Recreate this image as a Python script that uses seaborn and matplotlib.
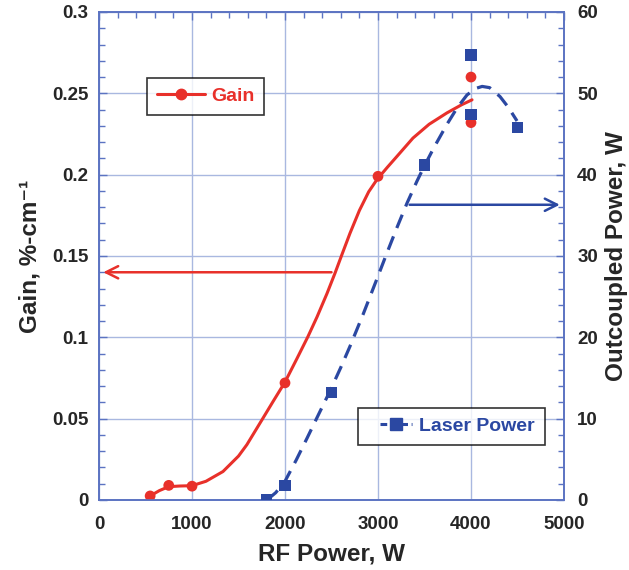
import matplotlib
matplotlib.use("Agg")
import matplotlib.pyplot as plt
from matplotlib.lines import Line2D
from matplotlib.legend_handler import HandlerLine2D
from matplotlib.ticker import MultipleLocator, FuncFormatter
import pandas as pd
import seaborn as sns

# Measured gain and laser output versus RF drive power
gain_rf = [550, 750, 1000, 2000, 3000, 4000, 4000]
gain_val = [0.0025, 0.009, 0.0085, 0.072, 0.199, 0.260, 0.232]

laser_rf = [1800, 2000, 2500, 3500, 4000, 4000, 4500]
laser_val = [0.0, 1.8, 13.2, 41.2, 54.7, 47.4, 45.8]

# Smooth trend curves drawn through the data
gain_fit_rf = [550, 650, 750, 870, 1000, 1150, 1333, 1500, 1590, 1760, 1871,
               2000, 2129, 2247, 2344, 2452, 2538, 2613, 2699, 2800, 2900,
               2989, 3100, 3200, 3376, 3550, 3742, 3900, 4011]
gain_fit_val = [0.0025, 0.0058, 0.0082, 0.0086, 0.0088, 0.0115, 0.0175, 0.027,
                0.034, 0.050, 0.0605, 0.0725, 0.087, 0.1005, 0.1125, 0.127,
                0.1395, 0.151, 0.164, 0.178, 0.1895, 0.197, 0.2045, 0.211,
                0.2225, 0.231, 0.238, 0.243, 0.246]

laser_fit_rf = [1806, 1900, 2000, 2120, 2237, 2360, 2484, 2600, 2699, 2839,
                2989, 3097, 3204, 3312, 3419, 3500, 3600, 3742, 3850, 3957,
                4050, 4120, 4200, 4312, 4400, 4495]
laser_fit_val = [0.0, 0.9, 2.3, 4.9, 7.6, 10.5, 13.4, 16.3, 18.9, 22.8,
                 27.2, 30.4, 33.5, 36.5, 39.2, 41.1, 43.3, 46.2, 48.2, 49.8,
                 50.6, 50.85, 50.7, 49.6, 48.3, 46.6]

RED = "#e8302a"
BLUE = "#2b48a2"
GRID = "#a9b8e0"
FRAME = "#5b73c2"
DASH = (0, (4.5, 2.8))

sns.set_style("white")
plt.rcParams["font.family"] = ["Liberation Sans", "DejaVu Sans"]
plt.rcParams["font.weight"] = "bold"

fig = plt.figure(figsize=(6.29, 5.70), dpi=100)
ax = fig.add_axes([99 / 629, 1 - 500 / 570, 465 / 629, 488 / 570])
ax2 = ax.twinx()

gain_df = pd.DataFrame({"rf": gain_rf, "gain": gain_val})
laser_df = pd.DataFrame({"rf": laser_rf, "power": laser_val})
gfit = pd.DataFrame({"rf": gain_fit_rf, "gain": gain_fit_val})
lfit = pd.DataFrame({"rf": laser_fit_rf, "power": laser_fit_val})

sns.lineplot(data=gfit, x="rf", y="gain", ax=ax, color=RED, linewidth=2.2,
             sort=False, estimator=None, zorder=3)
sns.scatterplot(data=gain_df, x="rf", y="gain", ax=ax, color=RED, s=60,
                edgecolor="none", zorder=4)

sns.lineplot(data=lfit, x="rf", y="power", ax=ax2, color=BLUE, linewidth=2.3,
             sort=False, estimator=None, linestyle=DASH, zorder=3)
sns.scatterplot(data=laser_df, x="rf", y="power", ax=ax2, color=BLUE, marker="s",
                s=66, edgecolor="none", zorder=4)

ax.set_xlim(0, 5000)
ax.set_ylim(0, 0.3)
ax2.set_ylim(0, 60)

ax.xaxis.set_major_locator(MultipleLocator(1000))
ax.xaxis.set_minor_locator(MultipleLocator(200))
ax.yaxis.set_major_locator(MultipleLocator(0.05))
ax.yaxis.set_minor_locator(MultipleLocator(0.01))
ax2.yaxis.set_major_locator(MultipleLocator(10))
ax2.yaxis.set_minor_locator(MultipleLocator(2))
ax.yaxis.set_major_formatter(FuncFormatter(lambda v, p: f"{v:g}"))

ax.grid(True, which="major", color=GRID, linewidth=1.0)
ax.set_axisbelow(True)

for a in (ax, ax2):
    for s in a.spines.values():
        s.set_color(FRAME)
        s.set_linewidth(1.2)
ax.tick_params(axis="both", which="both", direction="in", color=FRAME,
               labelsize=13.5, top=True, right=False)
ax.tick_params(axis="x", which="both", pad=11.5)
ax.tick_params(axis="y", which="both", pad=7.5)
ax.tick_params(which="major", length=6, width=1)
ax.tick_params(which="minor", length=4, width=1)
ax2.tick_params(axis="y", which="both", direction="in", color=FRAME,
                labelsize=13.5, pad=9.5)
ax2.tick_params(which="major", length=6, width=1)
ax2.tick_params(which="minor", length=4, width=1)
for lab in ax.get_xticklabels() + ax.get_yticklabels() + ax2.get_yticklabels():
    lab.set_fontweight("bold")

ax.set_xlabel("RF Power, W", fontsize=17.5, fontweight="bold", labelpad=7)
ax.set_ylabel("Gain, %-cm\u207b\u00b9", fontsize=17.5, fontweight="bold",
              labelpad=8)
ax2.set_ylabel("Outcoupled Power, W", fontsize=17.5, fontweight="bold",
               labelpad=5)

# Arrows pointing each curve to its own axis
ax.annotate("", xy=(15, 0.14), xytext=(2530, 0.14),
            arrowprops=dict(arrowstyle="->", color=RED, lw=1.8,
                            mutation_scale=22), zorder=5)
ax2.annotate("", xy=(4985, 36.3), xytext=(3310, 36.3),
             arrowprops=dict(arrowstyle="->", color=BLUE, lw=1.8,
                             mutation_scale=22), zorder=5)


class ShortHandle(HandlerLine2D):
    """Draw the legend sample only over the right part of the handle box."""

    def __init__(self, frac, **kw):
        super().__init__(**kw)
        self.frac = frac

    def create_artists(self, legend, orig_handle, xdescent, ydescent,
                       width, height, fontsize, trans):
        w = width * self.frac
        return super().create_artists(legend, orig_handle,
                                      xdescent - (width - w), ydescent,
                                      w, height, fontsize, trans)


gain_handle = Line2D([], [], color=RED, marker="o", markersize=7.5, linewidth=2.2)
laser_handle = Line2D([], [], color=BLUE, marker="s", markersize=8, linewidth=2.2,
                      linestyle=(0, (2.2, 1.2)))

leg1 = ax.legend([gain_handle], ["Gain"], loc="upper left",
                 bbox_to_anchor=(0.103, 0.865), frameon=True, fancybox=False,
                 edgecolor="black", handlelength=2.5, handletextpad=0.3,
                 borderpad=0.5, borderaxespad=0,
                 prop={"weight": "bold", "size": 14})
leg1.get_frame().set_linewidth(1.2)
leg1.get_texts()[0].set_color(RED)

leg2 = ax2.legend([laser_handle], ["Laser Power"], loc="upper left",
                  bbox_to_anchor=(0.557, 0.189), frameon=True, fancybox=False,
                  edgecolor="black", handlelength=2.3, handletextpad=0.35,
                  borderpad=0.5, borderaxespad=0,
                  handler_map={laser_handle: ShortHandle(0.72, numpoints=1)},
                  prop={"weight": "bold", "size": 14})
leg2.get_frame().set_linewidth(1.2)
leg2.get_texts()[0].set_color(BLUE)

fig.savefig("out.png", dpi=100, facecolor="white")
